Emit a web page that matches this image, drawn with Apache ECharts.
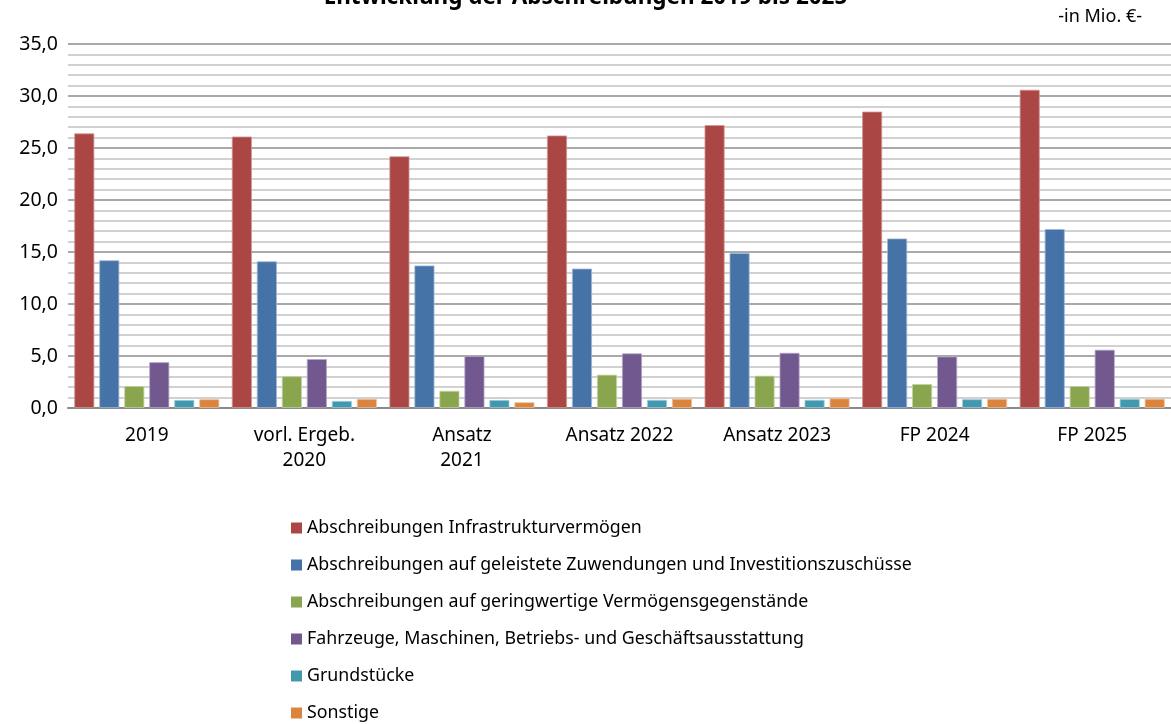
<!DOCTYPE html>
<html>
<head>
<meta charset="utf-8">
<script src="https://cdn.jsdelivr.net/npm/echarts@6/dist/echarts.min.js"></script>
<style>
  html, body { margin: 0; padding: 0; background: #fff; }
  #chart { width: 1171px; height: 724px; }
</style>
</head>
<body>
<div id="chart"></div>
<script>
// Abschreibungen, in Mio. €
const categories = ['2019', 'vorl. Ergeb.\n2020', 'Ansatz\n2021', 'Ansatz 2022', 'Ansatz 2023', 'FP 2024', 'FP 2025']
const infrastruktur = [26.4, 26.1, 24.2, 26.2, 27.2, 28.5, 30.6]
const zuwendungen = [14.2, 14.1, 13.7, 13.4, 14.9, 16.3, 17.2]
const geringwertig = [2.1, 3.05, 1.65, 3.2, 3.1, 2.3, 2.1]
const fahrzeuge = [4.4, 4.7, 5.0, 5.25, 5.3, 4.95, 5.6]
const grundstuecke = [0.77, 0.68, 0.77, 0.78, 0.78, 0.84, 0.87]
const sonstige = [0.84, 0.87, 0.55, 0.88, 0.93, 0.88, 0.88]

const seriesNames = [
  'Abschreibungen Infrastrukturvermögen',
  'Abschreibungen auf geleistete Zuwendungen und Investitionszuschüsse',
  'Abschreibungen auf geringwertige Vermögensgegenstände',
  'Fahrzeuge, Maschinen, Betriebs- und Geschäftsausstattung',
  'Grundstücke',
  'Sonstige'
]
const seriesData = [infrastruktur, zuwendungen, geringwertig, fahrzeuge, grundstuecke, sonstige]
const colors = ['#AA4644', '#4572A7', '#89A54E', '#71588F', '#4198AF', '#DB843D']
const borders = ['#d09896', '#9fb6d4', '#c3d3a3', '#b3a6c6', '#9ccbd8', '#edc09a']

const font = '"Noto Sans", sans-serif'
const chart = echarts.init(document.getElementById('chart'))

chart.setOption({
  animation: false,
  color: colors,
  textStyle: { fontFamily: font },
  title: {
    text: 'Entwicklung der Abschreibungen 2019 bis 2025',
    left: 'center',
    top: -19,
    textStyle: { fontSize: 22.5, fontWeight: 'bold', color: '#000', fontFamily: font }
  },
  graphic: [{
    type: 'text',
    right: 29,
    top: 8,
    style: { text: '-in Mio. €-', fontSize: 18, fill: '#000', fontFamily: font }
  }],
  legend: {
    orient: 'vertical',
    left: 286,
    top: 512,
    height: 300,
    itemWidth: 11,
    itemHeight: 11,
    itemGap: 15,
    icon: 'rect',
    data: seriesNames,
    itemStyle: { borderWidth: 0 },
    textStyle: { fontSize: 17.8, color: '#000', lineHeight: 22 }
  },
  grid: {
    left: 68,
    right: 0,
    top: 44,
    bottom: 316
  },
  xAxis: {
    type: 'category',
    data: categories,
    axisLine: { lineStyle: { color: '#888', width: 2 } },
    axisTick: { show: false },
    axisLabel: { fontSize: 19, color: '#000', margin: 15, lineHeight: 25 }
  },
  yAxis: {
    type: 'value',
    min: 0,
    max: 35,
    interval: 5,
    axisLine: { show: false },
    axisTick: { show: false },
    axisLabel: {
      fontSize: 19.5,
      color: '#000',
      margin: 10,
      formatter: v => v.toFixed(1).replace('.', ',')
    },
    splitLine: { lineStyle: { color: '#8c8c8c', width: 1.5 } },
    minorTick: { show: false, splitNumber: 5 },
    minorSplitLine: { show: true, lineStyle: { color: '#c2c2c2', width: 1.5 } }
  },
  series: seriesNames.map((name, i) => ({
    name: name,
    type: 'bar',
    data: seriesData[i],
    barWidth: 20,
    barGap: '25%',
    itemStyle: { color: colors[i], borderColor: borders[i], borderWidth: 0.8 }
  }))
})
</script>
</body>
</html>
